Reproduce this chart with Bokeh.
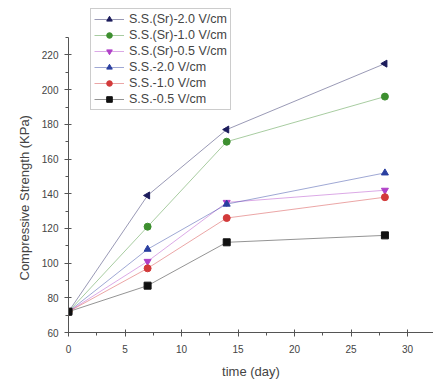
import math
from bokeh.plotting import figure
from bokeh.models import SingleIntervalTicker, Range1d, Legend, LegendItem, Title
from bokeh.embed import file_html
from bokeh.resources import INLINE

days = [0, 7, 14, 28]
sr_20 = [72, 139, 177, 215]
sr_10 = [72, 121, 170, 196]
sr_05 = [72, 101, 135, 142]
ss_20 = [72, 108, 134, 152]
ss_10 = [72, 97, 126, 138]
ss_05 = [72, 87, 112, 116]

labels = ["S.S.(Sr)-2.0 V/cm", "S.S.(Sr)-1.0 V/cm", "S.S.(Sr)-0.5 V/cm",
          "S.S.-2.0 V/cm", "S.S.-1.0 V/cm", "S.S.-0.5 V/cm"]
series = [sr_20, sr_10, sr_05, ss_20, ss_10, ss_05]
colors = ["#1c1c5c", "#3d8f2f", "#b040c8", "#2a3fa0", "#d23a3a", "#111111"]
markers = ["triangle", "circle", "inverted_triangle", "triangle", "circle", "square"]
angles = [math.pi / 2, 0, 0, 0, 0, 0]

FONT = "Liberation Sans"

p = figure(width=433, height=381, output_backend="svg", toolbar_location=None,
           x_range=Range1d(0, 32.3), y_range=Range1d(60, 251.4),
           min_border_left=68, min_border_top=0, min_border_bottom=49, min_border_right=0)
p.outline_line_color = None
p.grid.grid_line_color = None

items = []
for vals, lab, c, m, a in zip(series, labels, colors, markers, angles):
    r1 = p.line(days, vals, line_color=c, line_alpha=0.45, line_width=1)
    r2 = p.scatter(days, vals, marker=m, size=7, angle=a, fill_color=c, line_color=c)
    items.append(LegendItem(label=lab, renderers=[r1, r2]))

legend = Legend(items=items, location=(22, 222))
legend.label_text_font = FONT
legend.label_text_font_size = "12.5px"
legend.label_text_color = "#444444"
legend.label_height = 14
legend.glyph_height = 14
legend.glyph_width = 30
legend.spacing = 2
legend.padding = 3
legend.margin = 0
legend.border_line_color = "#999999"
legend.border_line_width = 1
legend.background_fill_alpha = 0
p.add_layout(legend, "center")

p.xaxis.ticker = SingleIntervalTicker(interval=5, num_minor_ticks=2)
p.yaxis.ticker = SingleIntervalTicker(interval=20, num_minor_ticks=2)
p.yaxis.bounds = (60, 230)
for ax in (p.xaxis, p.yaxis):
    ax.axis_line_color = "#555555"
    ax.major_tick_line_color = "#555555"
    ax.minor_tick_line_color = "#555555"
    ax.major_tick_in = 3
    ax.major_tick_out = 4
    ax.minor_tick_in = 0
    ax.minor_tick_out = 3
    ax.major_label_text_font = FONT
    ax.major_label_text_font_size = "10px"
    ax.major_label_text_color = "#444444"
    ax.axis_label_text_font = FONT
    ax.axis_label_text_font_size = "13px"
    ax.axis_label_text_font_style = "normal"
    ax.axis_label_text_color = "#444444"
p.xaxis.axis_label = "time (day)"
p.yaxis.major_label_standoff = 6
p.xaxis.major_label_standoff = 8
p.xaxis.axis_label_standoff = 8

ytitle = Title(text="Compressive Strength (KPa)", align="left", offset=52,
               standoff=14, text_font=FONT, text_font_size="13px",
               text_font_style="normal", text_color="#444444")
p.add_layout(ytitle, "left")

open("out.html", "w").write(file_html(p, INLINE))
